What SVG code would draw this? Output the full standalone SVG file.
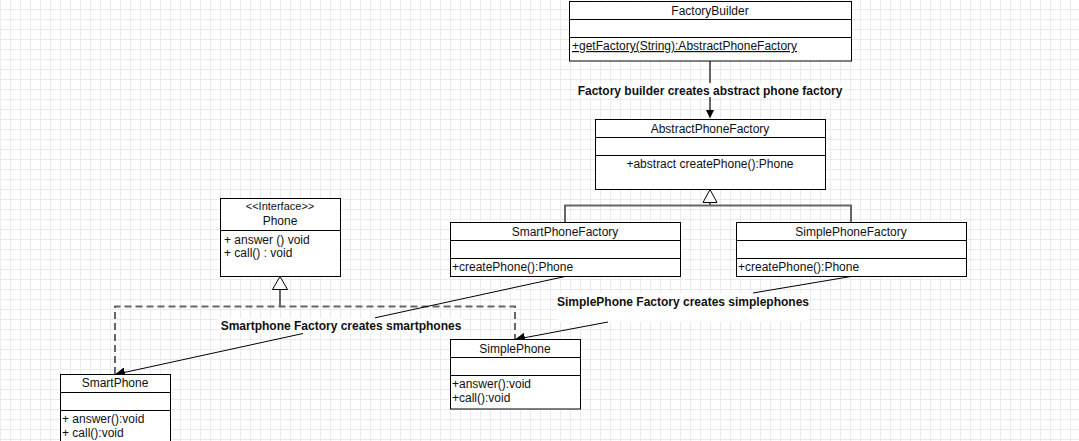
<svg xmlns="http://www.w3.org/2000/svg" width="1079" height="441" viewBox="0 0 1079 441">
<style>
  .box{fill:#fff;stroke:#000;stroke-width:1}
  .div{stroke:#000;stroke-width:1}
  text{font-family:"Liberation Sans",Arial,sans-serif;font-size:12px;fill:#111}
  .c{text-anchor:middle}
  .lbl{font-weight:bold;text-anchor:middle}
  .inh{fill:none;stroke:#666;stroke-width:2}
  .dash{fill:none;stroke:#666;stroke-width:2;stroke-dasharray:7 4}
  .assoc{fill:none;stroke:#000;stroke-width:1}
  .tri{fill:#fff;stroke:#000;stroke-width:1}
</style>
<defs>
  <pattern id="grid" x="0" y="9" width="10" height="10" patternUnits="userSpaceOnUse">
    <rect x="0" y="0" width="1" height="10" fill="#ebeaf3"/>
    <rect x="0" y="0" width="10" height="1" fill="#ebeaf3"/>
  </pattern>
  <marker id="arr2" viewBox="0 0 10 10" refX="10" refY="5" markerWidth="10" markerHeight="10" markerUnits="userSpaceOnUse" orient="auto">
    <path d="M0,0 L10,5 L0,10 Z" fill="#000"/>
  </marker>
</defs>
<rect width="1079" height="441" fill="#fff"/>
<rect width="1079" height="441" fill="url(#grid)"/>

<g id="connectors">
  <!-- FactoryBuilder -> AbstractPhoneFactory -->
  <line class="inh" x1="710" y1="61" x2="710" y2="83"/>
  <line class="inh" x1="710" y1="96" x2="710" y2="111"/>
  <path d="M706,110 L714,110 L710,118.5 Z" fill="#000"/>
  <rect x="576" y="83" width="267" height="14" fill="#fff"/>
  <text class="lbl" x="710" y="94.5">Factory builder creates abstract phone factory</text>

  <!-- Inheritance tree -->
  <path class="inh" d="M710,202.5 V205.5 M565,222.5 V205.5 H851 V222.5"/>
  <path class="tri" d="M710,189.5 L717,202.5 L703,202.5 Z"/>

  <!-- Realization to Phone (dashed) -->
  <path class="dash" d="M115,374 V306.5 H515 V339"/>
  <line class="inh" x1="280" y1="306.5" x2="280" y2="289.5"/>
  <path class="tri" d="M280,276.5 L287.5,289.5 L272.5,289.5 Z"/>

  <!-- SmartPhoneFactory -> SmartPhone -->
  <rect x="219" y="318" width="244" height="15" fill="#fff"/>
  <line class="assoc" x1="565" y1="276.5" x2="375" y2="317.8"/>
  <line class="assoc" x1="303" y1="333.5" x2="115" y2="374.5" marker-end="url(#arr2)"/>
  <text class="lbl" x="341" y="329.5">Smartphone Factory creates smartphones</text>

  <!-- SimplePhoneFactory -> SimplePhone -->
  <rect x="557" y="293" width="252" height="29" fill="#fff"/>
  <line class="assoc" x1="851" y1="276.5" x2="753" y2="293"/>
  <line class="assoc" x1="608" y1="322" x2="515" y2="339.5" marker-end="url(#arr2)"/>
  <text class="lbl" x="683" y="305.5">SimplePhone Factory creates simplephones</text>
</g>

<g id="FactoryBuilder">
  <rect class="box" x="569.5" y="1.5" width="282" height="59.5"/>
  <line class="div" x1="569.5" y1="19.5" x2="851.5" y2="19.5"/>
  <line class="div" x1="569.5" y1="37.5" x2="851.5" y2="37.5"/>
  <text class="c" x="710" y="14.5">FactoryBuilder</text>
  <text x="572" y="50" text-decoration="underline">+getFactory(String):AbstractPhoneFactory</text>
</g>

<g id="AbstractPhoneFactory">
  <rect class="box" x="595.5" y="119.5" width="230" height="70"/>
  <line class="div" x1="595.5" y1="137.5" x2="825.5" y2="137.5"/>
  <line class="div" x1="595.5" y1="155.5" x2="825.5" y2="155.5"/>
  <text class="c" x="710" y="132.5">AbstractPhoneFactory</text>
  <text class="c" x="710" y="167.5">+abstract createPhone():Phone</text>
</g>

<g id="SmartPhoneFactory">
  <rect class="box" x="450.5" y="222.5" width="230" height="54"/>
  <line class="div" x1="450.5" y1="240.5" x2="680.5" y2="240.5"/>
  <line class="div" x1="450.5" y1="258.5" x2="680.5" y2="258.5"/>
  <text class="c" x="565" y="235.5">SmartPhoneFactory</text>
  <text x="452" y="271">+createPhone():Phone</text>
</g>

<g id="SimplePhoneFactory">
  <rect class="box" x="736.5" y="222.5" width="230" height="54"/>
  <line class="div" x1="736.5" y1="240.5" x2="966.5" y2="240.5"/>
  <line class="div" x1="736.5" y1="258.5" x2="966.5" y2="258.5"/>
  <text class="c" x="851" y="235.5">SimplePhoneFactory</text>
  <text x="738" y="271">+createPhone():Phone</text>
</g>

<g id="Phone">
  <rect class="box" x="220.5" y="198.5" width="120" height="78"/>
  <line class="div" x1="220.5" y1="230.5" x2="340.5" y2="230.5"/>
  <text class="c" x="280" y="210" style="font-size:11px">&lt;&lt;Interface&gt;&gt;</text>
  <text class="c" x="280" y="225">Phone</text>
  <text x="224" y="243.5">+ answer () void</text>
  <text x="224" y="257">+ call() : void</text>
</g>

<g id="SimplePhone">
  <rect class="box" x="450.5" y="339.5" width="130" height="69.5"/>
  <line class="div" x1="450.5" y1="357.5" x2="580.5" y2="357.5"/>
  <line class="div" x1="450.5" y1="375.5" x2="580.5" y2="375.5"/>
  <text class="c" x="515" y="352.5">SimplePhone</text>
  <text x="452" y="387.5">+answer():void</text>
  <text x="452" y="402">+call():void</text>
</g>

<g id="SmartPhone">
  <rect class="box" x="60.5" y="374.5" width="110" height="80"/>
  <line class="div" x1="60.5" y1="392.5" x2="170.5" y2="392.5"/>
  <line class="div" x1="60.5" y1="410.5" x2="170.5" y2="410.5"/>
  <text class="c" x="115" y="387">SmartPhone</text>
  <text x="62" y="423">+ answer():void</text>
  <text x="62" y="437">+ call():void</text>
</g>
</svg>
